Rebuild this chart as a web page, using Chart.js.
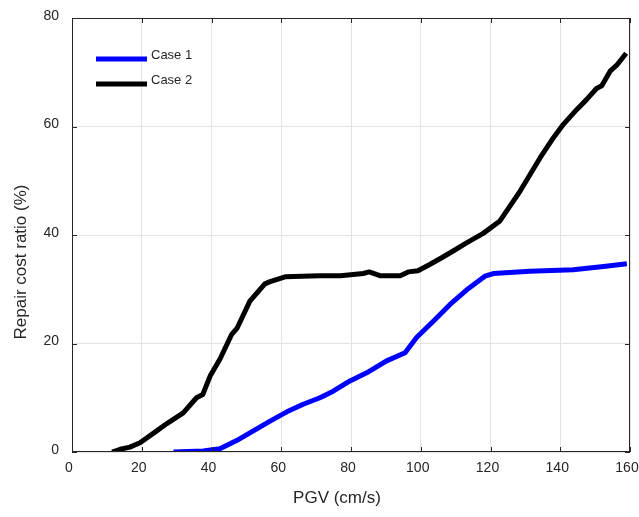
<!DOCTYPE html>
<html lang="en">
<head>
    <meta charset="UTF-8">
    <title>Repair cost ratio vs PGV</title>
    <script src="https://cdn.jsdelivr.net/npm/chart.js"></script>
    <style>
        * {
            margin: 0;
            padding: 0;
            box-sizing: border-box;
        }

        body {
            background: white;
        }

        .chart-container {
            width: 639px;
            height: 517px;
        }
    </style>
</head>
<body>
    <div class="chart-container">
        <canvas id="repair-chart" width="639" height="517"></canvas>
    </div>

    <script>
        // data
        const seriesNames = ['Case 1', 'Case 2'];

        const case1X = [29.1, 37.6, 42.4, 47.2, 52.0, 56.8, 61.6, 66.3, 71.1, 74.9, 79.7, 84.5,
                        90.2, 95.5, 98.8, 103.6, 108.4, 113.2, 118.4, 120.8, 131.3, 143.7, 152.4, 159.1];
        const case1Y = [0, 0.2, 0.6, 2.1, 3.9, 5.7, 7.4, 8.8, 10.0, 11.2, 13.1, 14.6,
                        16.8, 18.3, 21.1, 24.1, 27.2, 29.9, 32.4, 32.9, 33.3, 33.6, 34.2, 34.7];

        const case2X = [11.5, 13.8, 16.6, 19.5, 24.3, 27.1, 31.9, 35.7, 37.5, 39.6, 42.4, 45.8,
                        47.4, 51.0, 55.3, 56.8, 61.1, 66.0, 71.1, 77.0, 83.5, 85.2, 88.3, 94.1,
                        96.4, 99.2, 102.7, 106.0, 109.3, 113.0, 117.9, 122.7, 128.5, 134.2, 138.0,
                        140.9, 144.7, 147.6, 150.4, 151.9, 154.3, 156.2, 158.9];
        const case2Y = [0, 0.5, 0.9, 1.7, 3.9, 5.2, 7.2, 10.0, 10.6, 14.0, 17.1, 21.7,
                        22.9, 27.8, 31.0, 31.4, 32.3, 32.4, 32.5, 32.5, 32.9, 33.2, 32.5, 32.5,
                        33.2, 33.4, 34.6, 35.8, 37.05, 38.5, 40.3, 42.6, 48.1, 54.2, 57.9,
                        60.4, 63.1, 65.0, 67.0, 67.5, 70.2, 71.3, 73.5];

        const xTicks = [0, 20, 40, 60, 80, 100, 120, 140, 160];
        const yTicks = [0, 20, 40, 60, 80];

        const xTitle = 'PGV (cm/s)';
        const yTitle = 'Repair cost ratio (%)';

        const FONT = '"Liberation Sans", Arial, sans-serif';
        const TEXT_COLOR = '#262626';

        function toPoints(xs, ys) {
            return xs.map((x, i) => ({ x: x, y: ys[i] }));
        }

        // box round the plot with inward ticks, legend in the corner, axis titles
        const matlabStyle = {
            id: 'matlabStyle',
            afterDraw(chart) {
                const ctx = chart.ctx;
                const area = chart.chartArea;
                const xs = chart.scales.x;
                const ys = chart.scales.y;
                const tick = 5;

                ctx.save();
                ctx.strokeStyle = TEXT_COLOR;
                ctx.lineWidth = 1;
                ctx.strokeRect(area.left + 0.5, area.top + 0.5,
                               area.right - area.left - 1, area.bottom - area.top - 1);

                ctx.beginPath();
                xTicks.forEach(v => {
                    const px = Math.round(xs.getPixelForValue(v)) + 0.5;
                    ctx.moveTo(px, area.bottom);
                    ctx.lineTo(px, area.bottom - tick);
                    ctx.moveTo(px, area.top);
                    ctx.lineTo(px, area.top + tick);
                });
                yTicks.forEach(v => {
                    const py = Math.round(ys.getPixelForValue(v)) + 0.5;
                    ctx.moveTo(area.left, py);
                    ctx.lineTo(area.left + tick, py);
                    ctx.moveTo(area.right, py);
                    ctx.lineTo(area.right - tick, py);
                });
                ctx.stroke();

                // legend
                ctx.font = '13px ' + FONT;
                ctx.textBaseline = 'middle';
                ctx.textAlign = 'left';
                chart.data.datasets.forEach((ds, i) => {
                    const y = area.top + 41 + i * 25;
                    ctx.strokeStyle = ds.borderColor;
                    ctx.lineWidth = 5;
                    ctx.beginPath();
                    ctx.moveTo(96, y);
                    ctx.lineTo(147, y);
                    ctx.stroke();
                    ctx.fillStyle = TEXT_COLOR;
                    ctx.fillText(ds.label, 151, y - 3.5);
                });

                // axis titles
                ctx.font = '17px ' + FONT;
                ctx.fillStyle = TEXT_COLOR;
                ctx.textAlign = 'center';
                ctx.fillText(xTitle, 337, 498);
                ctx.translate(21, 262);
                ctx.rotate(-Math.PI / 2);
                ctx.fillText(yTitle, 0, 0);
                ctx.restore();
            }
        };

        const ctx = document.getElementById('repair-chart').getContext('2d');

        new Chart(ctx, {
            type: 'line',
            data: {
                datasets: [
                    {
                        label: seriesNames[0],
                        data: toPoints(case1X, case1Y),
                        borderColor: '#0000ff',
                        borderWidth: 5,
                        borderJoinStyle: 'round',
                        pointRadius: 0,
                        tension: 0
                    },
                    {
                        label: seriesNames[1],
                        data: toPoints(case2X, case2Y),
                        borderColor: '#000000',
                        borderWidth: 5,
                        borderJoinStyle: 'round',
                        pointRadius: 0,
                        tension: 0
                    }
                ]
            },
            options: {
                responsive: false,
                animation: false,
                layout: {
                    padding: { top: 18, right: 9, left: 0, bottom: 0 }
                },
                plugins: {
                    legend: { display: false },
                    tooltip: { enabled: false }
                },
                scales: {
                    x: {
                        type: 'linear',
                        min: 0,
                        max: 160,
                        afterBuildTicks: scale => {
                            scale.ticks = xTicks.map(v => ({ value: v }));
                        },
                        afterFit: scale => {
                            scale.height = 65;
                            scale.paddingLeft = 0;
                            scale.paddingRight = 0;
                        },
                        grid: {
                            color: '#e3e3e3',
                            drawTicks: false
                        },
                        border: { display: false },
                        ticks: {
                            padding: 8,
                            labelOffset: -3,
                            maxRotation: 0,
                            color: TEXT_COLOR,
                            font: { family: FONT, size: 14 }
                        }
                    },
                    y: {
                        min: 0,
                        max: 80,
                        afterBuildTicks: scale => {
                            scale.ticks = yTicks.map(v => ({ value: v }));
                        },
                        afterFit: scale => {
                            scale.width = 72;
                            scale.paddingTop = 0;
                            scale.paddingBottom = 0;
                        },
                        grid: {
                            color: '#e3e3e3',
                            drawTicks: false
                        },
                        border: { display: false },
                        ticks: {
                            padding: 13,
                            labelOffset: -2,
                            color: TEXT_COLOR,
                            font: { family: FONT, size: 14 }
                        }
                    }
                }
            },
            plugins: [matlabStyle]
        });
    </script>
</body>
</html>
